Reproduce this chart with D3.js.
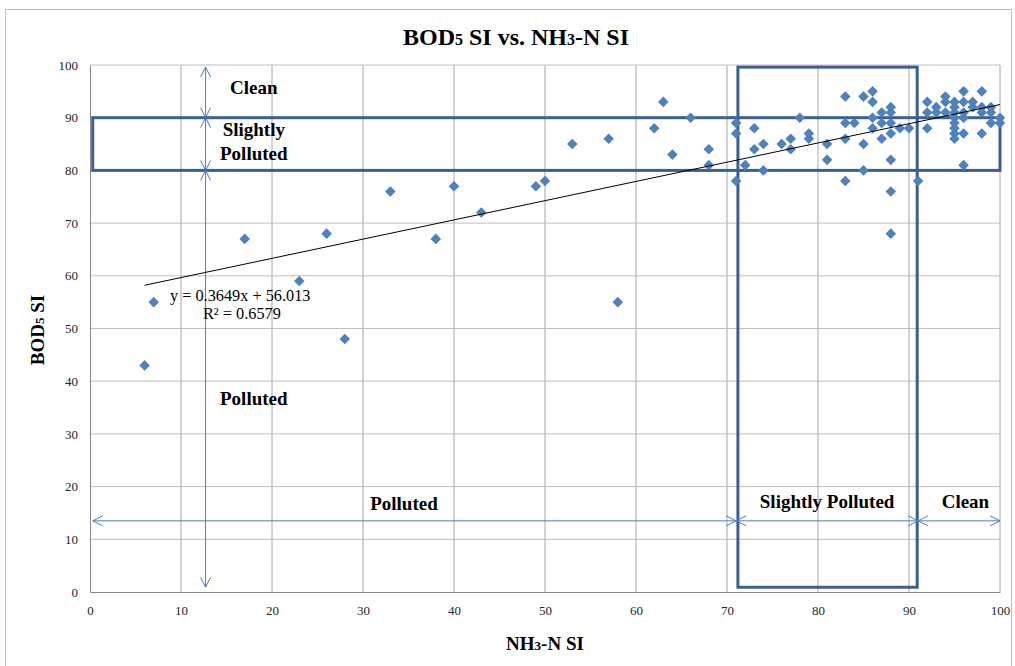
<!DOCTYPE html>
<html>
<head>
<meta charset="utf-8">
<script src="https://cdn.jsdelivr.net/npm/d3@7"></script>
<style>
body { margin: 0; background: #fff; }
text { font-family: "Liberation Serif", "Times New Roman", serif; }
</style>
</head>
<body>
<svg id="chart"></svg>
<script>
//chart size
const svgWidth = 1015;
const svgHeight = 666;

//NH3-N SI values (x)
const nh3 = [6, 7, 17, 23, 26, 28, 33, 38, 40, 43, 49, 50, 53, 57, 58, 62, 63, 64, 66, 68, 68,
	71, 71, 71, 72, 73, 73, 74, 74, 76, 77, 77, 78, 79, 79, 81, 81,
	83, 83, 83, 83, 84, 85, 85, 85, 86, 86, 86, 86, 87, 87, 87, 88, 88, 88, 88, 88, 88, 88, 89, 90, 91,
	92, 92, 92, 93, 93, 94, 94, 94, 95, 95, 95, 95, 95, 95, 95, 95, 96, 96, 96, 96, 96, 96,
	97, 97, 98, 98, 98, 98, 99, 99, 99, 100, 100];
//BOD5 SI values (y)
const bod5 = [43, 55, 67, 59, 68, 48, 76, 67, 77, 72, 77, 78, 85, 86, 55, 88, 93, 83, 90, 84, 81,
	89, 87, 78, 81, 88, 84, 85, 80, 85, 86, 84, 90, 87, 86, 85, 82,
	94, 89, 86, 78, 89, 94, 85, 80, 95, 93, 90, 88, 91, 89, 86, 92, 91, 89, 87, 82, 76, 68, 88, 88, 78,
	93, 91, 88, 92, 91, 94, 93, 91, 93, 92, 91, 90, 89, 88, 87, 86, 95, 93, 91, 90, 87, 81,
	93, 92, 95, 92, 91, 87, 92, 91, 89, 90, 89];

//axis ticks
const xTicks = [0, 10, 20, 30, 40, 50, 60, 70, 80, 90, 100];
const yTicks = [0, 10, 20, 30, 40, 50, 60, 70, 80, 90, 100];

//linear trend line
const slope = 0.3649;
const intercept = 56.013;
const eqLabel = 'y = 0.3649x + 56.013';
const r2Label = 'R² = 0.6579';

//class bounds (SI)
const bodBreaks = [0.9, 80, 90, 99.6];
const nh3Breaks = [0.3, 71, 91, 100];
const bodArrowX = 12.7;
const nh3ArrowY = 13.5;

//zone labels [x, y, text]
const zoneLabels = [
	[18, 94.5, 'Clean'],
	[18, 86.5, 'Slightly'],
	[18, 82, 'Polluted'],
	[18, 35.5, 'Polluted'],
	[34.5, 15.5, 'Polluted'],
	[81, 16, 'Slightly Polluted'],
	[96.2, 16, 'Clean']
];

const pointColor = '#4f81bd';
const boxColor = '#3b5f8e';
const arrowColor = '#4a7ebb';

const svg = d3.select('#chart')
	.attr('width', svgWidth)
	.attr('height', svgHeight);

//outer frame
svg.append('rect')
	.attr('x', 5.5).attr('y', 9.5)
	.attr('width', 1006).attr('height', 670)
	.attr('fill', 'none')
	.attr('stroke', '#bfbfbf');

//scales
const x = d3.scaleLinear().domain([0, 100]).range([90, 1000]);
const y = d3.scaleLinear().domain([0, 100]).range([592, 65]);

//grid
svg.append('g').selectAll('line')
	.data(xTicks.slice(1))
	.enter().append('line')
	.attr('x1', d => x(d)).attr('x2', d => x(d))
	.attr('y1', y(0)).attr('y2', y(100))
	.attr('stroke', '#a6a6a6');
svg.append('g').selectAll('line')
	.data(yTicks.slice(1))
	.enter().append('line')
	.attr('x1', x(0)).attr('x2', x(100))
	.attr('y1', d => y(d)).attr('y2', d => y(d))
	.attr('stroke', '#bfbfbf');

//axes
const xAxis = svg.append('g')
	.attr('transform', `translate(0, ${y(0)})`)
	.call(d3.axisBottom(x).tickValues(xTicks).tickSize(0).tickPadding(14));
const yAxis = svg.append('g')
	.attr('transform', `translate(${x(0)}, 0)`)
	.call(d3.axisLeft(y).tickValues(yTicks).tickSize(0).tickPadding(12));
[xAxis, yAxis].forEach(a => {
	a.select('.domain').attr('stroke', '#868686');
	a.selectAll('text')
		.style('font-family', '"Liberation Serif", serif')
		.style('font-size', '13px')
		.attr('fill', '#262626');
});

//boxes
svg.append('rect')
	.attr('x', x(nh3Breaks[0])).attr('y', y(bodBreaks[2]))
	.attr('width', x(100) - x(nh3Breaks[0]))
	.attr('height', y(bodBreaks[1]) - y(bodBreaks[2]))
	.attr('fill', 'none').attr('stroke', boxColor).attr('stroke-width', 3);
svg.append('rect')
	.attr('x', x(nh3Breaks[1] + 0.2)).attr('y', y(bodBreaks[3]))
	.attr('width', x(nh3Breaks[2] - 0.1) - x(nh3Breaks[1] + 0.2))
	.attr('height', y(bodBreaks[0]) - y(bodBreaks[3]))
	.attr('fill', 'none').attr('stroke', boxColor).attr('stroke-width', 3);

//arrow marker
svg.append('defs').append('marker')
	.attr('id', 'arr')
	.attr('viewBox', '-1 -6 13 12')
	.attr('refX', 10).attr('refY', 0)
	.attr('markerWidth', 13).attr('markerHeight', 12)
	.attr('markerUnits', 'userSpaceOnUse')
	.attr('orient', 'auto-start-reverse')
	.append('path')
	.attr('d', 'M0,-5L10,0L0,5')
	.attr('fill', 'none')
	.attr('stroke', arrowColor)
	.attr('stroke-width', 1);

//arrows
const arrows = svg.append('g');
d3.pairs(bodBreaks).forEach(([a, b]) => {
	arrows.append('line')
		.attr('x1', x(bodArrowX)).attr('x2', x(bodArrowX))
		.attr('y1', y(a)).attr('y2', y(b))
		.attr('stroke', arrowColor)
		.attr('marker-start', 'url(#arr)').attr('marker-end', 'url(#arr)');
});
d3.pairs(nh3Breaks).forEach(([a, b]) => {
	arrows.append('line')
		.attr('x1', x(a)).attr('x2', x(b))
		.attr('y1', y(nh3ArrowY)).attr('y2', y(nh3ArrowY))
		.attr('stroke', arrowColor)
		.attr('marker-start', 'url(#arr)').attr('marker-end', 'url(#arr)');
});

//points
const points = nh3.map((d, i) => ({nh3: d, bod5: bod5[i]}));
svg.append('g').selectAll('path')
	.data(points)
	.enter().append('path')
	.attr('d', d3.symbol().type(d3.symbolSquare).size(56))
	.attr('transform', d => `translate(${x(d.nh3)}, ${y(d.bod5)}) rotate(45)`)
	.attr('fill', pointColor);

//trend line
const [minX, maxX] = d3.extent(nh3);
svg.append('line')
	.attr('x1', x(minX)).attr('y1', y(slope * minX + intercept))
	.attr('x2', x(maxX)).attr('y2', y(slope * maxX + intercept))
	.attr('stroke', '#000').attr('stroke-width', 1);

//equation
svg.append('text')
	.attr('x', 170).attr('y', 301)
	.style('font-size', '16.3px')
	.text(eqLabel);
svg.append('text')
	.attr('x', 203).attr('y', 319)
	.style('font-size', '16.3px')
	.text(r2Label);

//zone labels
svg.append('g').selectAll('text')
	.data(zoneLabels)
	.enter().append('text')
	.attr('x', d => x(d[0])).attr('y', d => y(d[1]))
	.attr('text-anchor', 'middle')
	.style('font-size', '19px')
	.style('font-weight', 'bold')
	.text(d => d[2]);

//title
const title = svg.append('text')
	.attr('x', 516).attr('y', 45)
	.attr('text-anchor', 'middle')
	.style('font-size', '24px')
	.style('font-weight', 'bold');
title.append('tspan').text('BOD');
title.append('tspan').style('font-size', '16px').text('5');
title.append('tspan').text(' SI vs. NH');
title.append('tspan').style('font-size', '16px').text('3');
title.append('tspan').text('-N SI');

//axis titles
const xTitle = svg.append('text')
	.attr('x', 545).attr('y', 650)
	.attr('text-anchor', 'middle')
	.style('font-size', '19px')
	.style('font-weight', 'bold');
xTitle.append('tspan').text('NH');
xTitle.append('tspan').style('font-size', '13px').text('3');
xTitle.append('tspan').text('-N SI');

const yTitle = svg.append('text')
	.attr('transform', 'translate(44, 330) rotate(-90)')
	.attr('text-anchor', 'middle')
	.style('font-size', '19px')
	.style('font-weight', 'bold');
yTitle.append('tspan').text('BOD');
yTitle.append('tspan').style('font-size', '13px').text('5');
yTitle.append('tspan').text(' SI');
</script>
</body>
</html>
